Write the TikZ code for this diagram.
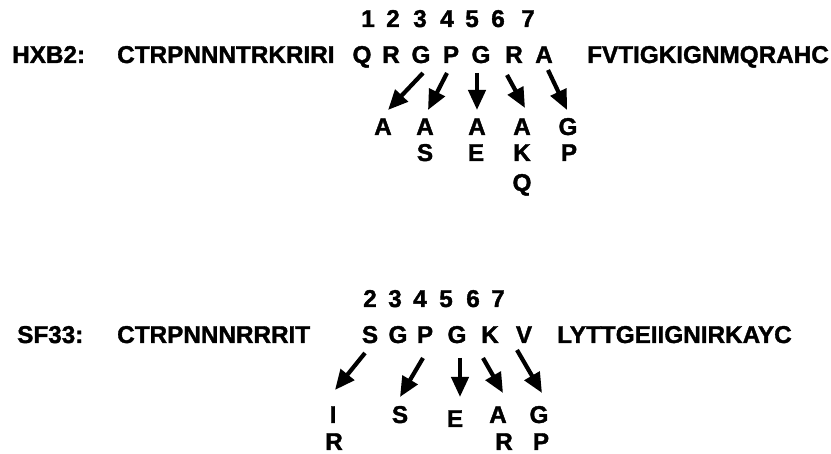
\documentclass[tikz,border=0pt]{standalone}
\usepackage{fontspec}
\setmainfont{Liberation Sans}
\newfontfamily\heavy[BoldFeatures={FakeBold=1.5}]{Liberation Sans}
\usetikzlibrary{arrows.meta}
\tikzset{
  res/.style={inner sep=0pt, anchor=base, font=\heavy\fontsize{24.3}{28}\bfseries\selectfont},
  seq/.style={inner sep=0pt, anchor=base west, font=\heavy\fontsize{24.3}{28}\bfseries\selectfont},
  mut/.style={line width=4.2pt, -{Triangle[length=20pt,width=17pt]}}
}
\begin{document}
\begin{tikzpicture}[x=1pt,y=-1pt]
\useasboundingbox (0,0) rectangle (831,454);

% ---- HXB2 ----
\node[seq] (hname) at (12,63) {HXB2:};
\node[seq] (hleft) at (117,63) {CTRPNNNTRKRIRI};
\node[seq] (hright) at (587,63) {FVTIGKIGNMQRAHC};

\foreach \n/\x in {1/368,2/393,3/420,4/447,5/472,6/498,7/528}
  \node[res] (hn\n) at (\x,27) {\n};

\node[res] (h1) at (362,63) {Q};
\node[res] (h2) at (391,63) {R};
\node[res] (h3) at (421,63) {G};
\node[res] (h4) at (451,63) {P};
\node[res] (h5) at (481,63) {G};
\node[res] (h6) at (514,63) {R};
\node[res] (h7) at (544,63) {A};

% substitutions
\node[res] (h3a) at (383,135) {A};
\node[res] (h4a) at (425,135) {A};
\node[res] (h4b) at (425,161) {S};
\node[res] (h5a) at (477,135) {A};
\node[res] (h5b) at (476,161) {E};
\node[res] (h6a) at (522,135) {A};
\node[res] (h6b) at (522,161) {K};
\node[res] (h6c) at (522,191) {Q};
\node[res] (h7a) at (568,135) {G};
\node[res] (h7b) at (569,161) {P};

\coordinate (h3s) at (423,73);  \coordinate (h3e) at (388,110);
\coordinate (h4s) at (447,73);  \coordinate (h4e) at (428,110);
\coordinate (h5s) at (477,73);  \coordinate (h5e) at (477,110);
\coordinate (h6s) at (507,75);  \coordinate (h6e) at (525,108);
\coordinate (h7s) at (548,70);  \coordinate (h7e) at (567,110);
\foreach \i in {3,...,7}
  \draw[mut] (h\i s) -- (h\i e);

% ---- SF33 ----
\node[seq] (sname) at (17,343) {SF33:};
\node[seq] (sleft) at (117,343) {CTRPNNNRRRIT};
\node[seq] (sright) at (557,343) {LYTTGEIIGNIRKAYC};

\foreach \n/\x in {2/370,3/395,4/420,5/446,6/473,7/498}
  \node[res] (sn\n) at (\x,307) {\n};

\node[res] (s2) at (370,343) {S};
\node[res] (s3) at (398,343) {G};
\node[res] (s4) at (425,343) {P};
\node[res] (s5) at (457,343) {G};
\node[res] (s6) at (490,343) {K};
\node[res] (s7) at (524,343) {V};

\node[res] (s2a) at (333,423) {I};
\node[res] (s2b) at (334,450) {R};
\node[res] (s4a) at (400,423) {S};
\node[res] (s5a) at (455,427) {E};
\node[res] (s6a) at (498,423) {A};
\node[res] (s6b) at (504,450) {R};
\node[res] (s7a) at (539,423) {G};
\node[res] (s7b) at (541,450) {P};

\coordinate (s2s) at (365,353); \coordinate (s2e) at (335,390);
\coordinate (s4s) at (423,358); \coordinate (s4e) at (400,397);
\coordinate (s5s) at (460,358); \coordinate (s5e) at (460,397);
\coordinate (s6s) at (483,358); \coordinate (s6e) at (503,393);
\coordinate (s7s) at (517,350); \coordinate (s7e) at (542,393);
\foreach \i in {2,4,5,6,7}
  \draw[mut] (s\i s) -- (s\i e);
\end{tikzpicture}
\end{document}
